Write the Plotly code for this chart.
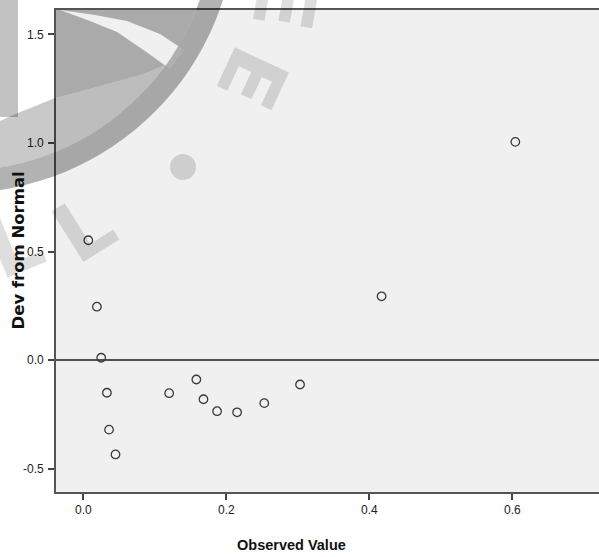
import base64
import plotly.graph_objects as go

# Data (detrended normal Q-Q plot)
observed = [0.007, 0.019, 0.025, 0.033, 0.036, 0.045, 0.120, 0.158, 0.168,
            0.187, 0.215, 0.253, 0.303, 0.417, 0.604]
dev_from_normal = [0.552, 0.246, 0.011, -0.150, -0.320, -0.434, -0.152, -0.089,
                   -0.180, -0.235, -0.240, -0.198, -0.112, 0.294, 1.005]
x_ticks = [0.0, 0.2, 0.4, 0.6]
x_tick_text = ["0.0", "0.2", "0.4", "0.6"]
y_ticks = [-0.5, 0.0, 0.5, 1.0, 1.5]
y_tick_text = ["-0.5", "0.0", "0.5", "1.0", "1.5"]

W, H = 599, 557
ML, MR, MT, MB = 56, 0, 10, 65
PW, PH = W - ML - MR, H - MT - MB

SANS = "Liberation Sans, Arial, sans-serif"

# Watermark overlay (decorative), drawn as an SVG in figure pixels
svg = f'''<svg xmlns="http://www.w3.org/2000/svg" width="{W}" height="{H}" viewBox="0 0 {W} {H}">
<defs><clipPath id="pc"><rect x="{ML}" y="{MT}" width="{PW}" height="{PH}"/></clipPath></defs>
<path d="M 0 121 L 18 113 L 55 98 L 100 86 L 140 75 L 166 65 A 255 255 0 0 1 0 167.7 Z" fill="rgba(0,0,0,0.21)"/>
<g clip-path="url(#pc)">
<path d="M 56 10 L 196 10 A 255 255 0 0 1 166 65 L 140 75 L 100 86 L 55 98 Z" fill="rgba(0,0,0,0.29)"/>
<path d="M 60 10 L 95 15 L 127 21 L 160 34 L 184 50 L 170 69 L 145 51 L 117 32 L 90 21 Z" fill="rgba(255,255,255,0.82)"/>
</g>
<rect x="0" y="0" width="18" height="117" fill="rgba(0,0,0,0.24)"/>
<path fill-rule="evenodd" fill="rgba(0,0,0,0.30)" d="M -318 -84 A 277 277 0 1 0 236 -84 A 277 277 0 1 0 -318 -84 Z M -296 -84 A 255 255 0 1 0 214 -84 A 255 255 0 1 0 -296 -84 Z"/>
<circle cx="183" cy="167" r="13" fill="rgba(0,0,0,0.14)"/>
<g font-family="DejaVu Sans, sans-serif" font-weight="bold" font-size="82" fill="rgba(0,0,0,0.13)" text-anchor="middle" dominant-baseline="central">
<text transform="translate(252,78) rotate(115)">E</text>
<text transform="translate(285,2) rotate(100)">E</text>
<text transform="translate(84,228) rotate(-32)">L</text>
<text transform="translate(14,244) rotate(-22)">L</text>
</g>
</svg>'''
src = "data:image/svg+xml;base64," + base64.b64encode(svg.encode()).decode()

fig = go.Figure()
fig.add_trace(go.Scatter(
    x=observed, y=dev_from_normal, mode="markers",
    marker=dict(symbol="circle-open", size=8.5, color="#3a3a3a",
                line=dict(width=1.3, color="#3a3a3a")),
    showlegend=False, hoverinfo="x+y"))

fig.update_layout(
    width=W, height=H,
    margin=dict(l=ML, r=MR, t=MT, b=MB, pad=0),
    paper_bgcolor="white", plot_bgcolor="#f0f0f0",
    font=dict(family=SANS, size=12, color="#222"),
    xaxis=dict(range=[-0.0382, 0.721], tickvals=x_ticks, ticktext=x_tick_text,
               showgrid=False, zeroline=False, showline=True, linecolor="#555",
               linewidth=1.6, mirror=True, ticks="outside", ticklen=6,
               tickwidth=1.5, tickcolor="#444",
               tickfont=dict(family=SANS, size=12, color="#222")),
    yaxis=dict(range=[-0.607, 1.612], tickvals=y_ticks, ticktext=y_tick_text,
               showgrid=False, zeroline=True, zerolinecolor="#505050",
               zerolinewidth=2, showline=True, linecolor="#555", linewidth=1.6,
               mirror=False, ticks="outside", ticklen=6, tickwidth=1.5,
               tickcolor="#444", ticklabelstandoff=2,
               tickfont=dict(family=SANS, size=12, color="#222")),
    annotations=[
        dict(text="<b>Observed Value</b>", xref="paper", yref="paper",
             x=(291 - ML) / PW, y=-(545 - (MT + PH)) / PH, xanchor="center",
             yanchor="middle", showarrow=False,
             font=dict(family=SANS, size=14.5, color="#111")),
        dict(text="<b>Dev from Normal</b>", xref="paper", yref="paper",
             x=-(ML - 18) / PW, y=1 - (250.5 - MT) / PH, xanchor="center",
             yanchor="middle", textangle=-90, showarrow=False,
             font=dict(family="DejaVu Sans, Arial, sans-serif", size=16.5, color="#111")),
    ],
    images=[dict(source=src, xref="paper", yref="paper",
                 x=-ML / PW, y=1 + MT / PH, sizex=W / PW, sizey=H / PH,
                 xanchor="left", yanchor="top", sizing="stretch", layer="above")],
)

fig.write_html("out.html", config={"displayModeBar": False},
               post_script="document.body.style.margin='0';")
